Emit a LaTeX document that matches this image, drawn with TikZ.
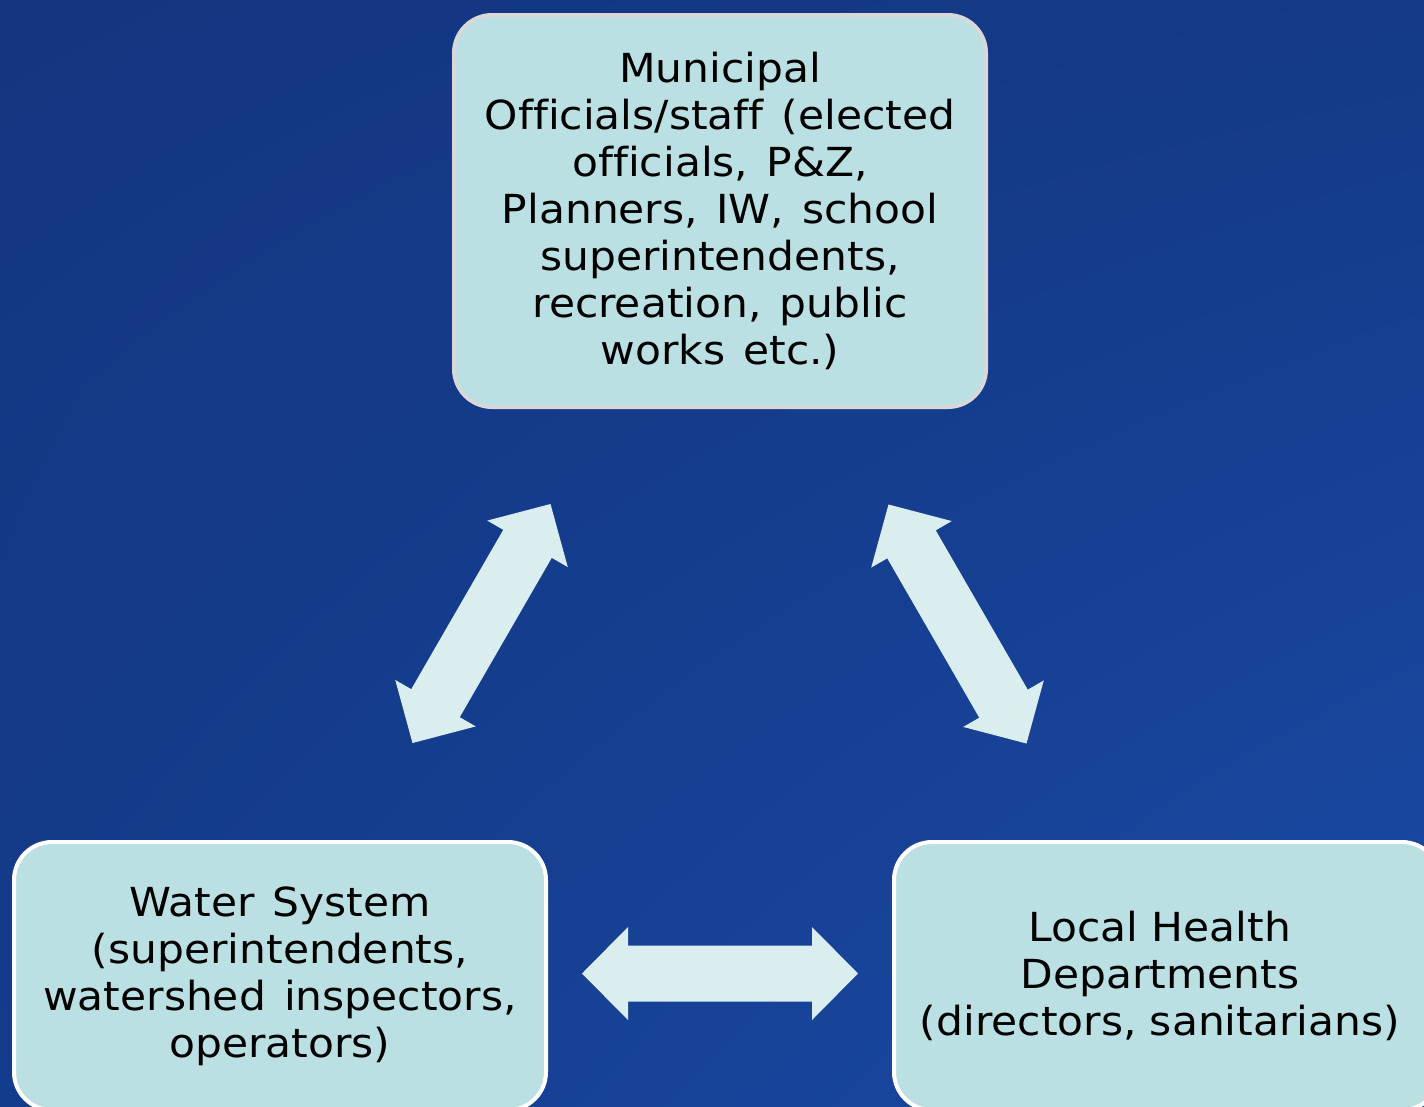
\documentclass[tikz,border=0pt]{standalone}
\usepackage{fontspec}
\setmainfont{DejaVu Sans}[FakeStretch=1.06, WordSpace=1.35, Ligatures=NoCommon]
\usetikzlibrary{shadings}
\begin{document}
\begin{tikzpicture}[x=1pt,y=-1pt,
  boxstyle/.style={rectangle, rounded corners=38pt, fill=boxfill, line width=4pt,
    align=center, font=\fontsize{40}{47}\selectfont, text=black, inner sep=0pt},
  arrowfill/.style={fill=arrowcol},
  dblarrow/.pic={\fill[arrowfill] (-138,0) -- (-92,-46.5) -- (-92,-28) -- (92,-28) -- (92,-46.5)
     -- (138,0) -- (92,46.5) -- (92,28) -- (-92,28) -- (-92,46.5) -- cycle;}]
\definecolor{boxfill}{RGB}{187,224,227}
\definecolor{arrowcol}{RGB}{218,238,240}
\definecolor{bgA}{RGB}{19,54,128}
\definecolor{bgB}{RGB}{20,60,140}
\definecolor{bgC}{RGB}{20,58,136}
\definecolor{bgD}{RGB}{26,74,166}
\definecolor{topborder}{RGB}{216,216,216}
\useasboundingbox (0,0) rectangle (1424,1106);
\clip (0,0) rectangle (1424,1106);
\shade[upper left=bgA, upper right=bgC, lower left=bgB, lower right=bgD] (0,0) rectangle (1424,1106);
% boxes
\node[boxstyle, draw=topborder, minimum width=532pt, minimum height=392pt] (mun) at (720,211)
  {Municipal\\Officials/staff (elected\\officials, P\&Z,\\Planners, IW, school\\superintendents,\\recreation, public\\works etc.)};
\node[boxstyle, draw=white, minimum width=532pt, minimum height=268pt] (water) at (280,976)
  {Water System\\(superintendents,\\watershed inspectors,\\operators)};
\node[boxstyle, draw=white, minimum width=546pt, minimum height=268pt, text width=532pt] (health) at (1167,976)
  {\hspace*{-14pt}Local Health\\\hspace*{-14pt}Departments\\\hspace*{-14pt}(directors, sanitarians)};
% arrows
\pic[rotate=60] at (481.5,623.5) {dblarrow};
\pic[rotate=-60] at (957.5,624) {dblarrow};
\pic at (720,973.5) {dblarrow};
\end{tikzpicture}
\end{document}
